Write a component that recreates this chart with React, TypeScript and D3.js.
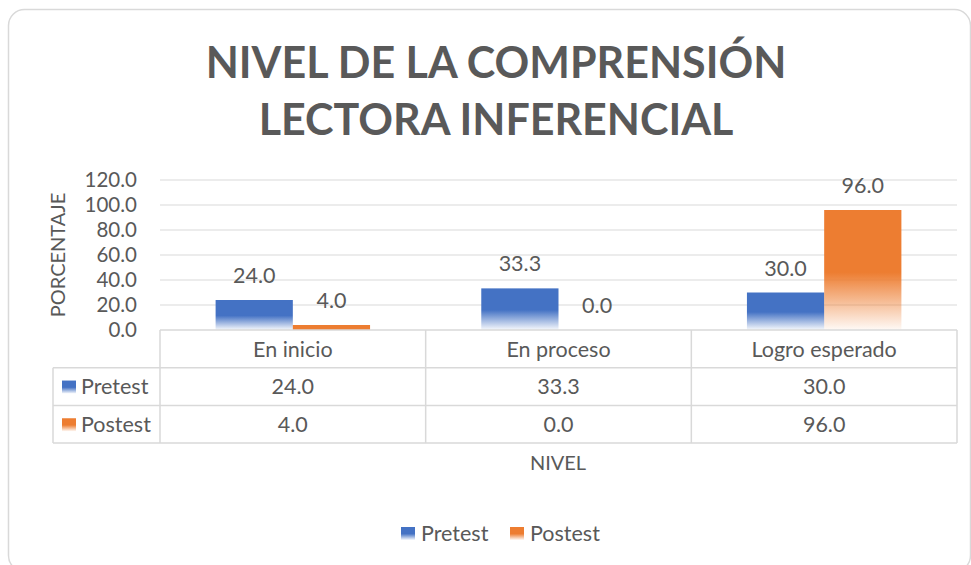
import React from "react";
import * as d3 from "d3";

const categories = ["En inicio", "En proceso", "Logro esperado"];
const seriesNames = ["Pretest", "Postest"];
const pretest = [24.0, 33.3, 30.0];
const postest = [4.0, 0.0, 96.0];
const yTicks = [0, 20, 40, 60, 80, 100, 120];
const colors = ["#4472C4", "#ED7D31"];

const W = 971;
const H = 565;
const FONT = "Lato, 'Open Sans', sans-serif";
const TXT = "#595959";
const FS = 21.5;
const TICK_FS = 20.5;

export default function App() {
  const values = [pretest, postest];
  const left = 160, right = 957, top = 180, bottom = 330;
  const x = d3.scaleBand<string>().domain(categories).range([left, right]).paddingInner(0).paddingOuter(0);
  const x1 = d3.scaleBand<string>().domain(seriesNames).range([0, x.bandwidth()]).paddingInner(0).paddingOuter(0.72);
  const y = d3.scaleLinear().domain([0, 120]).range([bottom, top]);
  const fmt = d3.format(".1f");
  const rowH = 37.7;
  const tableLeft = 53;
  const rows = [bottom, bottom + rowH, bottom + 2 * rowH, bottom + 3 * rowH];
  const grid = "#d9d9d9";

  return (
    <svg width={W} height={H} style={{ position: "absolute", left: 0, top: 0, fontFamily: FONT }}>
      <defs>
        {colors.map((c, i) => (
          <linearGradient key={i} id={`g${i}`} x1="0" y1="0" x2="0" y2="1">
            <stop offset="0" stopColor={c} />
            <stop offset="0.52" stopColor={c} />
            <stop offset="1" stopColor={c} stopOpacity="0.04" />
          </linearGradient>
        ))}
      </defs>
      <rect x={0} y={0} width={W} height={H} fill="#fff" />
      <rect x={8.5} y={9.5} width={962} height={562} rx={16} fill="#fff" stroke="#d9d9d9" strokeWidth={1.5} />

      <text x={496} y={78} textAnchor="middle" fontSize={43} fontWeight={700} fill={TXT}>NIVEL DE LA COMPRENSIÓN</text>
      <text x={496} y={135} textAnchor="middle" fontSize={43} fontWeight={700} fill={TXT}>LECTORA INFERENCIAL</text>

      {yTicks.map((t) => (
        <g key={t}>
          {t > 0 && <line x1={left} x2={right} y1={y(t)} y2={y(t)} stroke="#e6e6e6" strokeWidth={1.5} />}
          <text x={137} y={y(t)} dy="0.36em" textAnchor="end" fontSize={TICK_FS} fill={TXT}>{fmt(t)}</text>
        </g>
      ))}

      <text transform={`translate(65,${255}) rotate(-90)`} textAnchor="middle" fontSize={20} fill={TXT}>PORCENTAJE</text>

      {categories.map((c, ci) =>
        seriesNames.map((s, si) => {
          const v = values[si][ci];
          const bx = (x(c) as number) + (x1(s) as number);
          const bw = x1.bandwidth();
          return (
            <g key={c + s}>
              {v > 0 && <rect x={bx} y={y(v)} width={bw} height={bottom - y(v)} fill={si === 1 && v < 10 ? colors[si] : `url(#g${si})`} />}
              <text x={bx + bw / 2} y={y(v) - 17} textAnchor="middle" fontSize={FS} fill={TXT}>{fmt(v)}</text>
            </g>
          );
        })
      )}

      {/* data table */}
      <line x1={left} x2={right} y1={rows[0]} y2={rows[0]} stroke={grid} strokeWidth={1.5} />
      <line x1={tableLeft} x2={right} y1={rows[1]} y2={rows[1]} stroke={grid} strokeWidth={1.5} />
      <line x1={tableLeft} x2={right} y1={rows[2]} y2={rows[2]} stroke={grid} strokeWidth={1.5} />
      <line x1={tableLeft} x2={right} y1={rows[3]} y2={rows[3]} stroke={grid} strokeWidth={1.5} />
      <line x1={tableLeft} x2={tableLeft} y1={rows[1]} y2={rows[3]} stroke={grid} strokeWidth={1.5} />
      {[...categories.map((c) => x(c) as number), right].map((xx, i) => (
        <line key={i} x1={xx} x2={xx} y1={rows[0]} y2={rows[3]} stroke={grid} strokeWidth={1.5} />
      ))}
      {categories.map((c) => (
        <text key={c} x={(x(c) as number) + x.bandwidth() / 2} y={(rows[0] + rows[1]) / 2} dy="0.36em" textAnchor="middle" fontSize={FS} fill={TXT}>{c}</text>
      ))}
      {seriesNames.map((s, si) => (
        <g key={s}>
          <rect x={62} y={(rows[si + 1] + rows[si + 2]) / 2 - 6} width={14} height={13} fill={`url(#g${si})`} />
          <text x={81} y={(rows[si + 1] + rows[si + 2]) / 2} dy="0.36em" fontSize={FS} fill={TXT}>{s}</text>
          {categories.map((c, ci) => (
            <text key={c} x={(x(c) as number) + x.bandwidth() / 2} y={(rows[si + 1] + rows[si + 2]) / 2} dy="0.36em" textAnchor="middle" fontSize={FS} fill={TXT}>{fmt(values[si][ci])}</text>
          ))}
        </g>
      ))}

      <text x={558} y={463} dy="0.36em" textAnchor="middle" fontSize={20} fill={TXT}>NIVEL</text>

      {/* legend */}
      {seriesNames.map((s, si) => {
        const lx = si === 0 ? 401 : 510;
        return (
          <g key={s}>
            <rect x={lx} y={527} width={14} height={13} fill={`url(#g${si})`} />
            <text x={lx + 20} y={533} dy="0.36em" fontSize={FS} fill={TXT}>{s}</text>
          </g>
        );
      })}
    </svg>
  );
}
